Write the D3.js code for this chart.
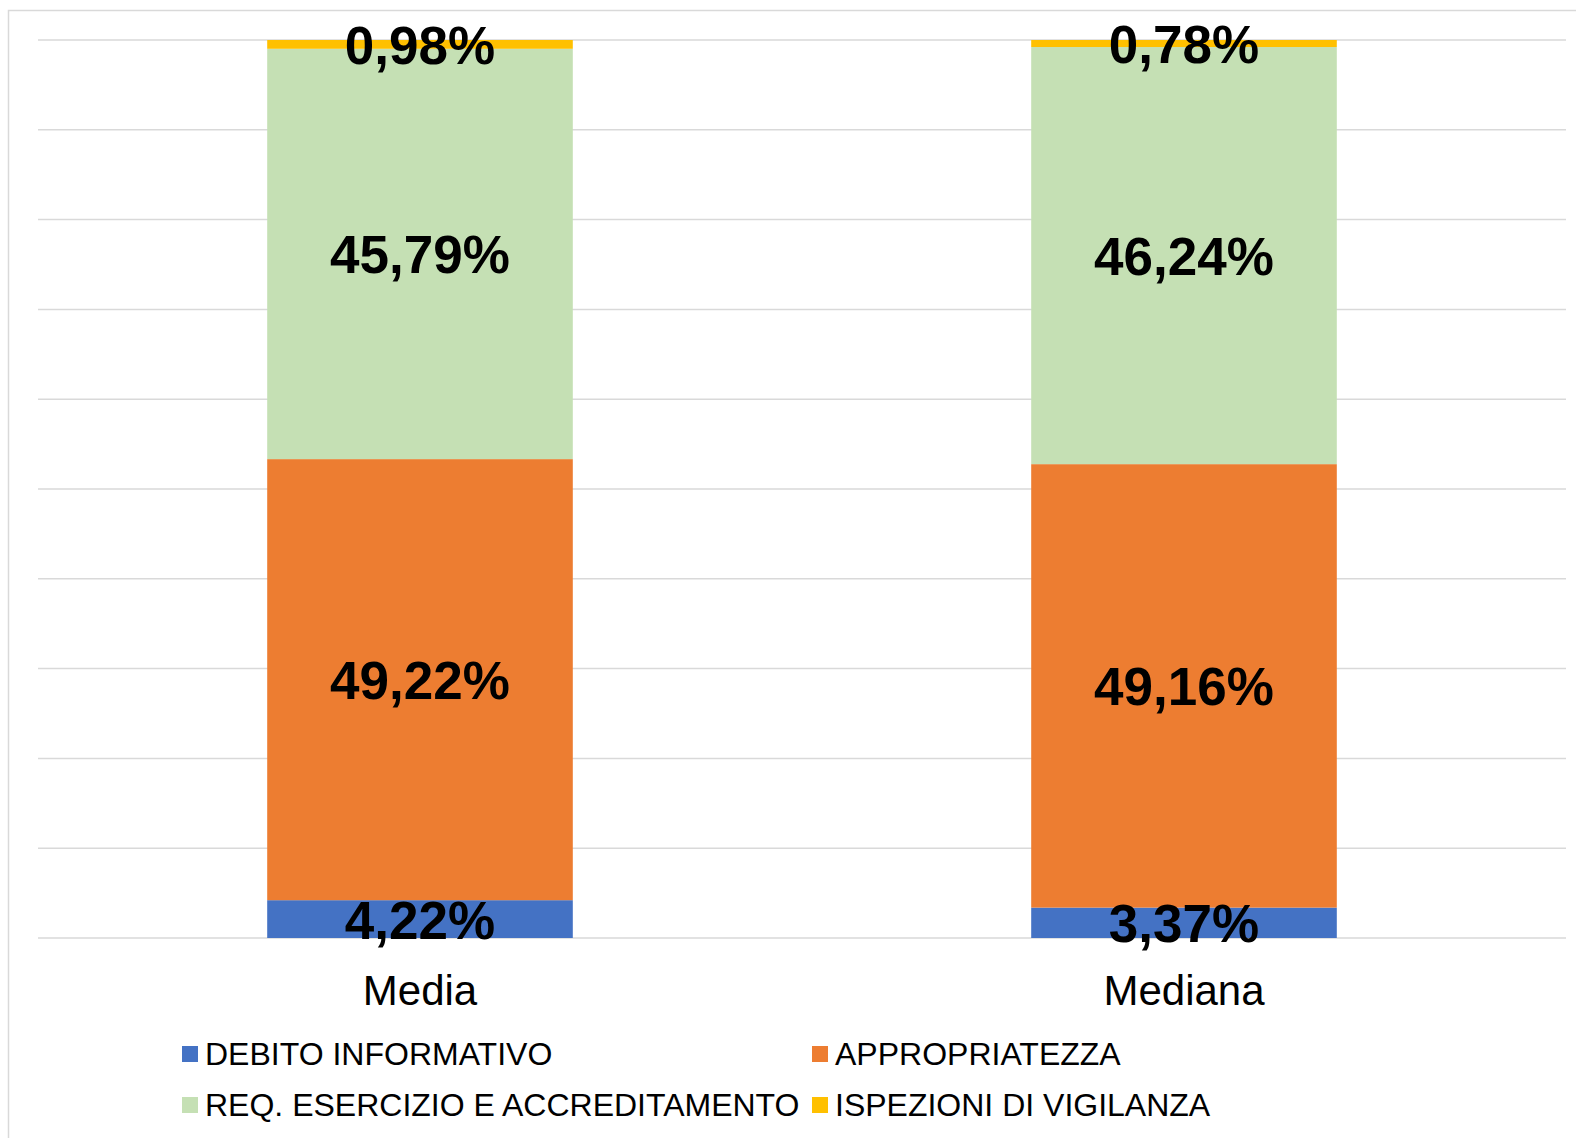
<!DOCTYPE html>
<html>
<head>
<meta charset="utf-8">
<script src="https://cdn.jsdelivr.net/npm/d3@7"></script>
<style>
  body { margin: 0; background: #fff; }
  svg { display: block; font-family: "Liberation Sans", Arial, sans-serif; }
</style>
</head>
<body>
<svg id="chart" width="1576" height="1138"></svg>
<script>
const categories = ["Media", "Mediana"];
const seriesNames = ["DEBITO INFORMATIVO", "APPROPRIATEZZA", "REQ. ESERCIZIO E ACCREDITAMENTO", "ISPEZIONI DI VIGILANZA"];
const seriesColors = ["#4472C4", "#ED7D31", "#C5E0B4", "#FFC000"];
const debito = [4.22, 3.37];
const appropriatezza = [49.22, 49.16];
const requisiti = [45.79, 46.24];
const ispezioni = [0.98, 0.78];
const yTicks = [0, 10, 20, 30, 40, 50, 60, 70, 80, 90, 100];

const svg = d3.select('#chart');
const W = 1576, H = 1138;
const plot = {left: 38, right: 1566, top: 40, bottom: 938};

// outer chart border (right/bottom edges fall outside the picture)
svg.append('rect')
  .attr('x', 8.5).attr('y', 10.5)
  .attr('width', W).attr('height', H)
  .attr('fill', 'none').attr('stroke', '#d9d9d9').attr('stroke-width', 1.5);

const x = d3.scaleBand()
  .domain(categories)
  .range([plot.left, plot.right])
  .paddingInner(0.6)
  .paddingOuter(0.3);

const y = d3.scaleLinear().domain([0, 100]).range([plot.bottom, plot.top]);

// gridlines
svg.append('g')
  .selectAll('line')
  .data(yTicks)
  .enter().append('line')
  .attr('x1', plot.left).attr('x2', plot.right)
  .attr('y1', d => y(d)).attr('y2', d => y(d))
  .attr('stroke', '#d9d9d9').attr('stroke-width', 1.5);

// 100% stacked: normalise each category to its own total
const rows = categories.map((c, i) => {
  const vals = [debito[i], appropriatezza[i], requisiti[i], ispezioni[i]];
  const total = d3.sum(vals);
  const row = {cat: c};
  seriesNames.forEach((s, j) => { row[s] = vals[j] / total * 100; row[s + '_raw'] = vals[j]; });
  return row;
});

const stack = d3.stack().keys(seriesNames);
const layers = stack(rows);

const fmt = v => d3.format('.2f')(v).replace('.', ',') + '%';

const layer = svg.append('g')
  .selectAll('g')
  .data(layers)
  .enter().append('g')
  .attr('fill', (d, i) => seriesColors[i]);

layer.selectAll('rect')
  .data(d => d)
  .enter().append('rect')
  .attr('x', d => x(d.data.cat))
  .attr('width', x.bandwidth())
  .attr('y', d => y(d[1]))
  .attr('height', d => y(d[0]) - y(d[1]));

// value labels
const labels = svg.append('g');
layers.forEach(l => {
  l.forEach(d => {
    labels.append('text')
      .attr('x', x(d.data.cat) + x.bandwidth() / 2)
      .attr('y', (y(d[0]) + y(d[1])) / 2 + 1)
      .attr('text-anchor', 'middle')
      .attr('dominant-baseline', 'central')
      .attr('font-size', 53)
      .attr('font-weight', 'bold')
      .attr('fill', '#000')
      .text(fmt(d.data[l.key + '_raw']));
  });
});

// category axis labels
svg.append('g')
  .selectAll('text')
  .data(categories)
  .enter().append('text')
  .attr('x', d => x(d) + x.bandwidth() / 2)
  .attr('y', 1005)
  .attr('text-anchor', 'middle')
  .attr('font-size', 42)
  .attr('fill', '#000')
  .text(d => d);

// legend
const legendPos = [[182, 1054], [812, 1054], [182, 1105], [812, 1105]];
const legend = svg.append('g')
  .selectAll('g')
  .data(seriesNames)
  .enter().append('g')
  .attr('transform', (d, i) => `translate(${legendPos[i][0]},${legendPos[i][1]})`);

legend.append('rect')
  .attr('x', 0).attr('y', -8)
  .attr('width', 16).attr('height', 16)
  .attr('fill', (d, i) => seriesColors[i]);

legend.append('text')
  .attr('x', 23).attr('y', 0)
  .attr('dominant-baseline', 'central')
  .attr('font-size', 32)
  .attr('fill', '#000')
  .text(d => d);
</script>
</body>
</html>
